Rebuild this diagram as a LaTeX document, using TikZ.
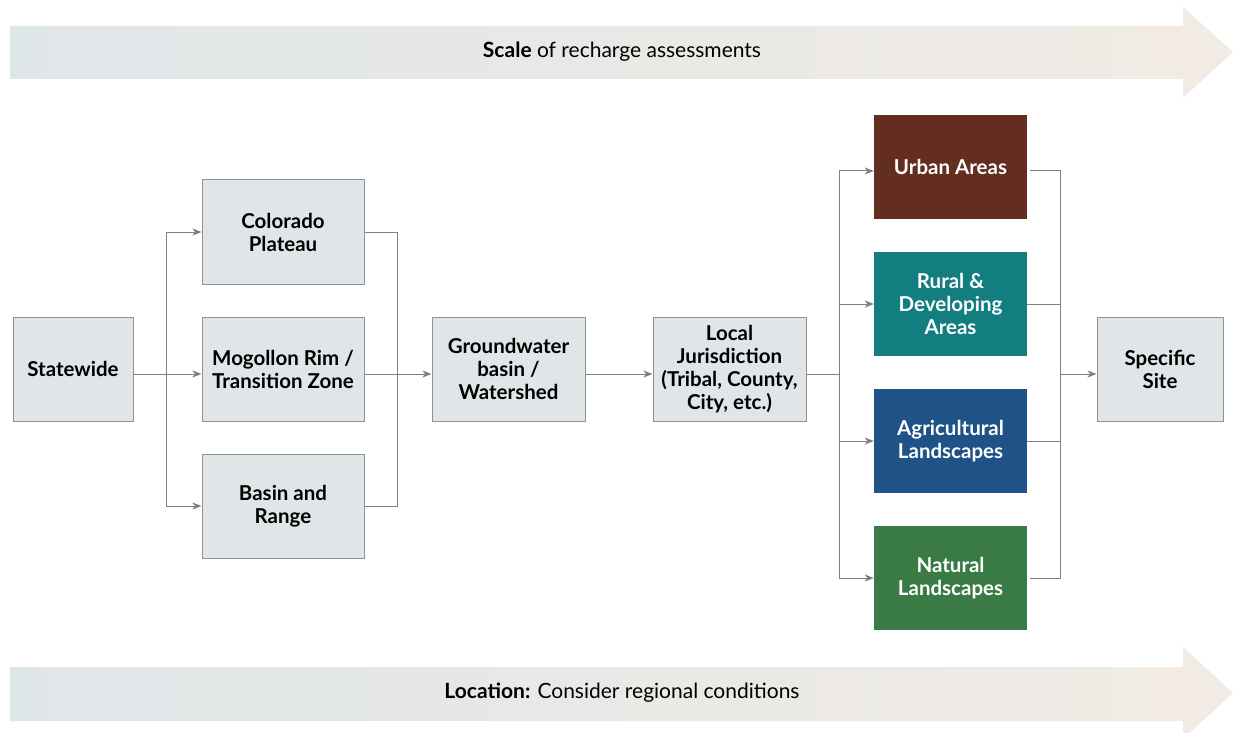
\documentclass[tikz,border=0pt]{standalone}
\usepackage{fontspec}
\setmainfont{Lato}
\usetikzlibrary{arrows.meta}
\definecolor{boxfill}{HTML}{E0E6E8}
\definecolor{boxedge}{HTML}{8E9294}
\definecolor{linegray}{HTML}{808080}
\definecolor{urban}{HTML}{632E20}
\definecolor{rural}{HTML}{137E80}
\definecolor{agri}{HTML}{1F5286}
\definecolor{natural}{HTML}{3A7B45}
\definecolor{arrL}{HTML}{DFE6E9}
\definecolor{arrR}{HTML}{F2EBE4}
\tikzset{
  base/.style={rectangle, inner sep=0pt, align=center, font=\bfseries\fontsize{20.5}{23}\selectfont},
  gbox/.style={base, draw=boxedge, line width=1pt, fill=boxfill, text=black},
  cbox/.style={base, fill=#1, text=white, minimum width=153pt, minimum height=104pt},
  conn/.style={draw=linegray, line width=1pt},
  arr/.style={conn, -{Stealth[length=9pt,width=7pt,inset=2.5pt]}},
  banner/.style={font=\fontsize{21}{23}\selectfont, text=black}
}
\begin{document}
\begin{tikzpicture}[x=1pt,y=-1pt]
\useasboundingbox (0,0) rectangle (1235,733);
% big arrows
\shade[left color=arrL, right color=arrR] (10,26) -- (1183,26) -- (1183,7) -- (1233,52) -- (1183,98) -- (1183,79) -- (10,79) -- cycle;
\node[banner] (scale) at (622,52) {\textbf{Scale} of recharge assessments};
\shade[left color=arrL, right color=arrR] (10,667) -- (1183,667) -- (1183,647) -- (1233,693) -- (1183,739) -- (1183,721) -- (10,721) -- cycle;
\node[banner] (loc) at (622,693) {\textbf{Location:} Consider regional conditions};
% boxes
\node[gbox, minimum width=120pt, minimum height=104pt] (sw) at (73,369) {Statewide};
\node[gbox, minimum width=162pt, minimum height=104pt] (cp) at (283,232) {Colorado\\Plateau};
\node[gbox, minimum width=162pt, minimum height=104pt] (mr) at (283,369) {Mogollon Rim /\\Transition Zone};
\node[gbox, minimum width=162pt, minimum height=104pt] (br) at (283,506) {Basin and\\Range};
\node[gbox, minimum width=153pt, minimum height=104pt] (gw) at (508.5,369) {Groundwater\\basin /\\Watershed};
\node[gbox, minimum width=153pt, minimum height=104pt] (lj) at (729.5,369) {Local\\Jurisdiction\\(Tribal, County,\\City, etc.)};
\node[cbox=urban] (ua) at (950.5,167) {Urban Areas};
\node[cbox=rural] (rd) at (950.5,304) {Rural \&\\Developing\\Areas};
\node[cbox=agri] (ag) at (950.5,441) {Agricultural\\Landscapes};
\node[cbox=natural] (nl) at (950.5,578) {Natural\\Landscapes};
\node[gbox, minimum width=126pt, minimum height=104pt] (ss) at (1160,369) {Specific\\Site};
% bus points
\coordinate (b1) at (166,374);
\coordinate (b2) at (397,374);
\coordinate (b3) at (839,374);
\coordinate (b4) at (1060,374);
% connectors
\draw[conn] (sw.east |- b1) -- (b1);
\draw[arr] (b1) |- (cp.west);
\draw[arr] (b1) -- (mr.west |- b1);
\draw[arr] (b1) |- (br.west);
\draw[conn] (cp.east) -| (b2);
\draw[conn] (mr.east |- b2) -- (b2);
\draw[conn] (br.east) -| (b2);
\draw[arr] (b2) -- (gw.west |- b2);
\draw[arr] (gw.east |- b2) -- (lj.west |- b2);
\draw[conn] (lj.east |- b3) -- (b3);
\draw[arr] (b3) |- ([yshift=-4pt]ua.west);
\draw[arr] (b3) |- (rd.west);
\draw[arr] (b3) |- (ag.west);
\draw[arr] (b3) |- (nl.west);
\draw[conn] ([xshift=3pt,yshift=-4pt]ua.east) -| (b4);
\draw[conn] (rd.east) -| (b4);
\draw[conn] (ag.east) -| (b4);
\draw[conn] ([xshift=3pt]nl.east) -| (b4);
\draw[arr] (b4) -- (ss.west |- b4);
\end{tikzpicture}
\end{document}
